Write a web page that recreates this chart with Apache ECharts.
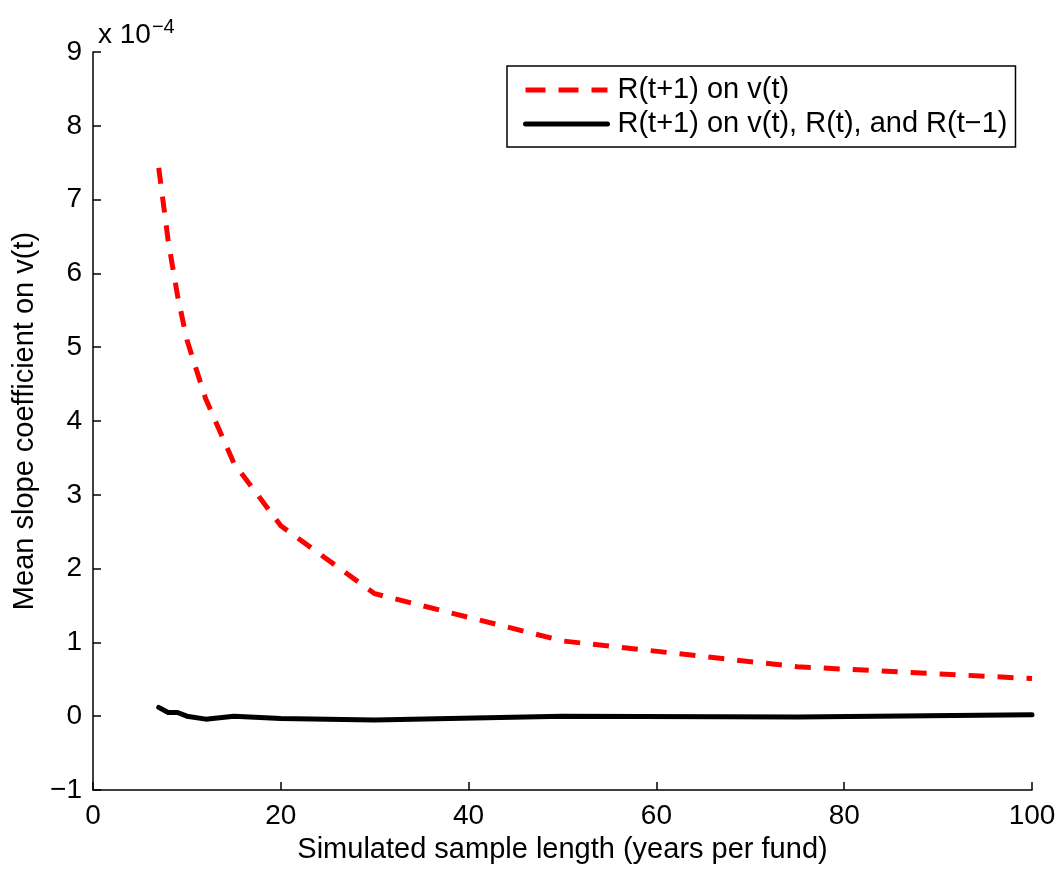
<!DOCTYPE html>
<html>
<head>
<meta charset="utf-8">
<script src="https://cdn.jsdelivr.net/npm/echarts@6/dist/echarts.min.js"></script>
<style>
html,body{margin:0;padding:0;background:#fff;}
#chart{width:1061px;height:869px;}
</style>
</head>
<body>
<div id="chart"></div>
<script>
// Data (values in units of 1e-4)
var sampleLength = [7, 8, 9, 10, 12, 15, 20, 30, 50, 75, 100];
var simpleSlope = [7.43, 6.45, 5.7, 5.1, 4.3, 3.43, 2.58, 1.66, 1.02, 0.67, 0.51];
var multiSlope = [0.12, 0.05, 0.05, 0.0, -0.04, 0.0, -0.03, -0.05, 0.0, -0.01, 0.02];
var seriesNames = ['R(t+1) on v(t)', 'R(t+1) on v(t), R(t), and R(t\u22121)'];
var xTicks = [0, 20, 40, 60, 80, 100];
var yTicks = [-1, 0, 1, 2, 3, 4, 5, 6, 7, 8, 9];

var FONT = '"Liberation Sans", Arial, Helvetica, sans-serif';
function pairs(xs, ys) { return xs.map(function (x, i) { return [x, ys[i]]; }); }

var chart = echarts.init(document.getElementById('chart'), null, {renderer: 'canvas'});
chart.setOption({
  backgroundColor: '#fff',
  animation: false,
  textStyle: {fontFamily: FONT},
  grid: {left: 93, right: 29, top: 52, bottom: 77, containLabel: false},
  title: {
    text: 'x 10{sup|\u22124}',
    left: 93, top: 12,
    textStyle: {
      fontFamily: FONT, fontSize: 28, fontWeight: 'normal', color: '#000',
      rich: {sup: {fontFamily: FONT, fontSize: 20, color: '#000', verticalAlign: 'top', padding: [0, 0, 16, 1]}}
    }
  },
  legend: {
    orient: 'vertical',
    left: 507, top: 66,
    padding: [9, 8, 8, 16],
    itemGap: 4,
    itemWidth: 82, itemHeight: 14,
    borderColor: '#000', borderWidth: 1.5, borderRadius: 0,
    backgroundColor: '#fff',
    itemStyle: {opacity: 0},
    lineStyle: {width: 5},
    textStyle: {fontFamily: FONT, fontSize: 29, color: '#000', lineHeight: 30, padding: [0, 0, 0, 5]},
    data: [
      {name: seriesNames[0], lineStyle: {width: 5, type: [20, 13], color: '#ff0000'}},
      {name: seriesNames[1], lineStyle: {width: 5, type: 'solid', color: '#000'}}
    ]
  },
  xAxis: {
    type: 'value', min: 0, max: 100, interval: 20,
    name: 'Simulated sample length (years per fund)',
    nameLocation: 'middle', nameGap: 45,
    nameTextStyle: {fontFamily: FONT, fontSize: 29, color: '#000'},
    axisLine: {show: true, onZero: false, lineStyle: {color: '#000', width: 1.5}},
    axisTick: {show: true, inside: true, length: 8, lineStyle: {color: '#000', width: 1.5}},
    axisLabel: {fontFamily: FONT, fontSize: 28, color: '#000', margin: 12,
      formatter: function (v) { return xTicks.indexOf(v) >= 0 ? String(v) : ''; }},
    splitLine: {show: false}
  },
  yAxis: {
    type: 'value', min: -1, max: 9, interval: 1,
    name: 'Mean slope coefficient on v(t)',
    nameLocation: 'middle', nameGap: 52,
    nameTextStyle: {fontFamily: FONT, fontSize: 29, color: '#000'},
    axisLine: {show: true, onZero: false, lineStyle: {color: '#000', width: 1.5}},
    axisTick: {show: true, inside: true, length: 8, lineStyle: {color: '#000', width: 1.5}},
    axisLabel: {fontFamily: FONT, fontSize: 28, color: '#000', margin: 11,
      formatter: function (v) { return yTicks.indexOf(v) >= 0 ? (v < 0 ? '\u2212' + Math.abs(v) : String(v)) : ''; }},
    splitLine: {show: false}
  },
  series: [
    {
      name: seriesNames[0], type: 'line', data: pairs(sampleLength, simpleSlope),
      symbol: 'none', showSymbol: false, smooth: false,
      lineStyle: {color: '#ff0000', width: 5, type: [16, 13], cap: 'butt'},
      itemStyle: {color: '#ff0000'}
    },
    {
      name: seriesNames[1], type: 'line', data: pairs(sampleLength, multiSlope),
      symbol: 'none', showSymbol: false, smooth: false,
      lineStyle: {color: '#000', width: 5, type: 'solid', cap: 'round', join: 'round'},
      itemStyle: {color: '#000'}
    }
  ]
});
</script>
</body>
</html>
